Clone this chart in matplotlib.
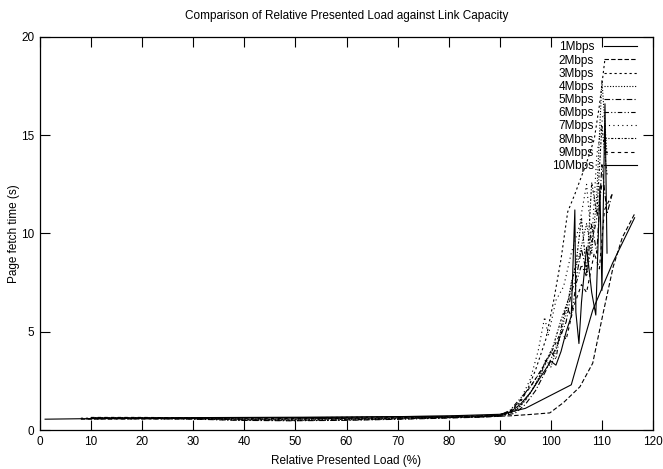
import matplotlib
matplotlib.use("Agg")
import matplotlib.pyplot as plt

plt.rcParams['font.family'] = ['Liberation Sans', 'DejaVu Sans']

labels = ['1Mbps', '2Mbps', '3Mbps', '4Mbps', '5Mbps',
          '6Mbps', '7Mbps', '8Mbps', '9Mbps', '10Mbps']

# load (%) and page fetch time (s) for each link capacity
x1 = [1, 10, 20, 30, 40, 50, 60, 70, 80, 90, 95, 104, 106.3, 108.2, 112.1, 116.4]
y1 = [0.55, 0.58, 0.6, 0.6, 0.62, 0.63, 0.65, 0.68, 0.72, 0.8, 1.1, 2.3, 4.4, 6.1, 8.5, 10.8]

x2 = [8, 15, 25, 35, 45, 55, 65, 75, 85, 92, 96.5, 99.8, 102.5, 105.7, 108.2, 110.2, 112.2, 114.0, 116.4]
y2 = [0.55, 0.56, 0.57, 0.56, 0.55, 0.58, 0.6, 0.63, 0.66, 0.72, 0.8, 0.87, 1.4, 2.2, 3.4, 5.9, 8.3, 9.8, 11.0]

x3 = [8, 18, 28, 38, 48, 58, 68, 78, 86, 90, 92, 94, 95.5, 97, 99, 100.5, 102, 103.3, 104.7, 105.7, 107, 108.5, 109.5, 110.6]
y3 = [0.6, 0.6, 0.61, 0.62, 0.62, 0.64, 0.66, 0.68, 0.72, 0.78, 0.95, 1.4, 2.1, 3.05, 4.6, 6.5, 8.7, 11.1, 12.0, 12.7, 13.6, 14.8, 16.5, 18.9]

x4 = [9, 19, 29, 39, 49, 59, 69, 79, 87, 90, 92, 94, 96, 98, 99, 100, 101.5, 103, 104, 105.5, 107, 108, 109, 110, 111]
y4 = [0.58, 0.58, 0.57, 0.5, 0.48, 0.5, 0.55, 0.62, 0.68, 0.72, 0.85, 1.2, 1.9, 2.8, 3.6, 3.2, 4.5, 6.0, 7.5, 8.8, 10.5, 9.0, 12.0, 17.8, 14.0]

x5 = [9, 19, 29, 39, 49, 59, 69, 79, 87, 90, 93, 95, 97, 99, 101, 103, 104, 105, 106, 107, 108, 109, 110, 111, 112]
y5 = [0.57, 0.57, 0.56, 0.49, 0.47, 0.49, 0.54, 0.6, 0.66, 0.7, 0.85, 1.3, 2.0, 3.0, 4.2, 5.5, 7.0, 7.8, 9.2, 8.0, 10.5, 9.0, 13.5, 11.0, 12.0]

x6 = [10, 20, 30, 40, 50, 60, 70, 80, 87, 90, 92, 94, 96, 98, 100, 101, 102, 103, 104, 105, 106, 107, 108, 109, 110]
y6 = [0.6, 0.6, 0.58, 0.52, 0.5, 0.52, 0.57, 0.63, 0.68, 0.75, 1.0, 1.6, 2.2, 3.0, 4.0, 3.6, 5.2, 6.3, 5.8, 7.5, 8.4, 7.8, 9.5, 10.8, 12.5]

x7 = [10, 20, 30, 40, 50, 60, 70, 80, 87, 90, 92, 94, 96, 97.5, 98.8, 99.5, 101, 102.5, 104, 105.5, 107, 108, 109, 110.2]
y7 = [0.6, 0.61, 0.6, 0.55, 0.52, 0.54, 0.58, 0.64, 0.68, 0.7, 0.9, 1.5, 2.6, 4.0, 5.75, 4.8, 6.6, 7.3, 9.0, 10.3, 12.5, 9.5, 14.0, 16.0]

x8 = [10, 20, 30, 40, 50, 60, 70, 80, 87, 90, 93, 95, 97, 99, 100.5, 102, 103.5, 105, 106, 107, 108, 109, 110, 111]
y8 = [0.62, 0.62, 0.6, 0.56, 0.55, 0.56, 0.6, 0.65, 0.7, 0.72, 0.95, 1.5, 2.3, 3.4, 4.3, 5.6, 6.7, 8.6, 10.8, 8.0, 12.6, 11.0, 15.5, 13.0]

x9 = [10, 20, 30, 40, 50, 60, 70, 80, 87, 90, 92, 94, 96, 98, 100, 102, 103, 104.5, 106, 107, 108.5, 109.5, 110.5, 112]
y9 = [0.64, 0.64, 0.62, 0.6, 0.58, 0.6, 0.63, 0.67, 0.72, 0.75, 0.95, 1.5, 2.2, 3.0, 3.9, 5.0, 4.6, 6.3, 7.4, 7.0, 9.0, 8.2, 11.2, 12.0]

x10 = [10, 20, 30, 40, 50, 60, 70, 80, 87, 90, 92, 94, 96, 98, 100, 101, 102, 103, 104, 104.7, 104.9, 105.5, 106, 107, 108, 108.8, 109.6, 110, 110.6, 111]
y10 = [0.62, 0.62, 0.63, 0.64, 0.65, 0.66, 0.68, 0.7, 0.72, 0.75, 0.9, 1.3, 1.9, 2.7, 3.5, 3.3, 4.0, 5.0, 5.8, 11.2, 6.0, 4.4, 6.5, 9.3, 7.0, 5.85, 12.4, 7.1, 16.6, 9.0]

xs = [x1, x2, x3, x4, x5, x6, x7, x8, x9, x10]
ys = [y1, y2, y3, y4, y5, y6, y7, y8, y9, y10]

styles = ['-', (0, (4, 2)), (0, (2, 2.5)), (0, (1, 1.5)), (0, (5, 2, 1, 2)),
          (0, (4, 2, 1, 2, 1, 2)), (0, (1, 3)), (0, (2, 1.5, 1, 1.5)), (0, (3, 3)), '-']

fig = plt.figure(figsize=(6.63, 4.69), dpi=100)
ax = fig.add_axes([40 / 663, 39 / 469, 613 / 663, 393 / 469])

for x, y, ls, lab in zip(xs, ys, styles, labels):
    ax.plot(x, y, color='black', linestyle=ls, linewidth=0.8, label=lab)

ax.set_xlim(0, 120)
ax.set_ylim(0, 20)
ax.set_xticks(range(0, 121, 10))
ax.set_yticks(range(0, 21, 5))
ax.tick_params(direction='in', length=7, width=0.8, top=True, right=True,
               labelsize=8.5, pad=4)
for sp in ax.spines.values():
    sp.set_linewidth(0.9)

ax.set_title('Comparison of Relative Presented Load against Link Capacity',
             fontsize=8.5, pad=13)
ax.set_xlabel('Relative Presented Load (%)', fontsize=8.5, labelpad=5)
ax.set_ylabel('Page fetch time (s)', fontsize=8.5)
ax.yaxis.set_label_coords(-20 / 613, 0.5)

ax.legend(loc='upper right', bbox_to_anchor=(1 - 14 / 613, 1 - 2 / 393), frameon=False,
          markerfirst=False, fontsize=8.5, handlelength=2.75, handletextpad=0.85,
          labelspacing=0.1, borderaxespad=0, borderpad=0.2)

fig.savefig('out.png', dpi=100)
